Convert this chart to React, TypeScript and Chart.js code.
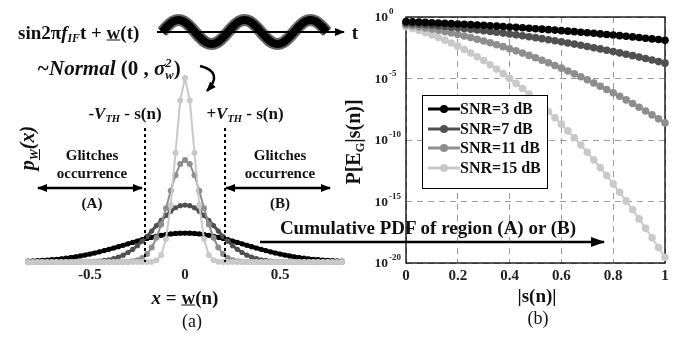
import React, { useEffect, useRef } from "react";
import { Chart, registerables } from "chart.js";
Chart.register(...registerables);

const FONT = '"Liberation Serif", "Times New Roman", serif';

// ---------- Panel (a): PDF of the noise w(n) ----------
const pdfX = [
  -0.825, -0.8, -0.775, -0.75, -0.725, -0.7, -0.675, -0.65, -0.625, -0.6, -0.575, -0.55, -0.525, -0.5,
  -0.475, -0.45, -0.425, -0.4, -0.375, -0.35, -0.325, -0.3, -0.275, -0.25, -0.225, -0.2, -0.175, -0.15,
  -0.125, -0.1, -0.075, -0.05, -0.025, 0, 0.025, 0.05, 0.075, 0.1, 0.125, 0.15, 0.175, 0.2, 0.225, 0.25,
  0.275, 0.3, 0.325, 0.35, 0.375, 0.4, 0.425, 0.45, 0.475, 0.5, 0.525, 0.55, 0.575, 0.6, 0.625, 0.65,
  0.675, 0.7, 0.725, 0.75, 0.775, 0.8, 0.825,
];
const pdfSnr3 = [
  0.038, 0.047, 0.058, 0.07, 0.085, 0.102, 0.122, 0.144, 0.17, 0.2, 0.232, 0.269, 0.308, 0.352,
  0.399, 0.45, 0.504, 0.56, 0.619, 0.68, 0.742, 0.804, 0.866, 0.927, 0.986, 1.041, 1.093, 1.14,
  1.181, 1.216, 1.243, 1.264, 1.276, 1.28, 1.276, 1.264, 1.243, 1.216, 1.181, 1.14, 1.093, 1.041, 0.986, 0.927,
  0.866, 0.804, 0.742, 0.68, 0.619, 0.56, 0.504, 0.45, 0.399, 0.352, 0.308, 0.269, 0.232, 0.2, 0.17, 0.144,
  0.122, 0.102, 0.085, 0.07, 0.058, 0.047, 0.038,
];
const pdfSnr7 = [
  0, 0, 0, 0, 0, 0, 0, 0, 0.001, 0.002, 0.003, 0.006, 0.01, 0.017,
  0.028, 0.044, 0.068, 0.1, 0.15, 0.22, 0.3, 0.42, 0.56, 0.72, 0.92, 1.13, 1.37, 1.61,
  1.84, 2.06, 2.25, 2.4, 2.49, 2.52, 2.49, 2.4, 2.25, 2.06, 1.84, 1.61, 1.37, 1.13, 0.92, 0.72,
  0.56, 0.42, 0.3, 0.22, 0.15, 0.1, 0.068, 0.044, 0.028, 0.017, 0.01, 0.006, 0.003, 0.002, 0.001, 0,
  0, 0, 0, 0, 0, 0, 0,
];
const pdfSnr11 = [
  0, 0, 0, 0, 0, 0, 0, 0, 0, 0, 0, 0, 0, 0,
  0, 0, 0, 0, 0, 0, 0.005, 0.014, 0.036, 0.08, 0.18, 0.35, 0.64, 1.07,
  1.66, 2.38, 3.15, 3.84, 4.33, 4.51, 4.33, 3.84, 3.15, 2.38, 1.66, 1.07, 0.64, 0.35, 0.18, 0.08,
  0.036, 0.014, 0.005, 0, 0, 0, 0, 0, 0, 0, 0, 0, 0, 0, 0, 0,
  0, 0, 0, 0, 0, 0, 0,
];
const pdfSnr15 = [
  0, 0, 0, 0, 0, 0, 0, 0, 0, 0, 0, 0, 0, 0,
  0, 0, 0, 0, 0, 0, 0, 0, 0, 0, 0, 0, 0.014, 0.075,
  0.31, 1.02, 2.52, 4.83, 7.15, 8.14, 7.15, 4.83, 2.52, 1.02, 0.31, 0.075, 0.014, 0, 0, 0,
  0, 0, 0, 0, 0, 0, 0, 0, 0, 0, 0, 0, 0, 0, 0, 0,
  0, 0, 0, 0, 0, 0, 0,
];
const pdfTicks = [-0.5, 0, 0.5];
const thresholdX = [-0.21, 0.21];

// ---------- Noisy sine sketch ----------
const waveIdx = [0, 1, 2, 3, 4, 5, 6, 7, 8, 9, 10, 11, 12, 13, 14, 15, 16, 17, 18, 19, 20, 21, 22, 23, 24, 25, 26, 27, 28, 29, 30];
const waveVal = [0, 0.5, 0.87, 1, 0.87, 0.5, 0, -0.5, -0.87, -1, -0.87, -0.5, 0, 0.5, 0.87, 1, 0.87, 0.5, 0, -0.5, -0.87, -1, -0.87, -0.5, 0, 0.5, 0.87, 1, 0.87, 0.5, 0];

// ---------- Panel (b): P[E_G | s(n)] (log10 of probability) ----------
const sAbs = [
  0, 0.025, 0.05, 0.075, 0.1, 0.125, 0.15, 0.175, 0.2, 0.225, 0.25, 0.275, 0.3, 0.325, 0.35, 0.375, 0.4, 0.425, 0.45, 0.475,
  0.5, 0.525, 0.55, 0.575, 0.6, 0.625, 0.65, 0.675, 0.7, 0.725, 0.75, 0.775, 0.8, 0.825, 0.85, 0.875, 0.9, 0.925, 0.95, 0.975, 1,
];
const log10PSnr3 = [
  -0.376, -0.397, -0.419, -0.441, -0.464, -0.489, -0.513, -0.539, -0.565, -0.593, -0.62, -0.65, -0.679, -0.711, -0.742, -0.774, -0.807, -0.842, -0.877, -0.913,
  -0.95, -0.989, -1.027, -1.067, -1.108, -1.15, -1.192, -1.235, -1.28, -1.326, -1.372, -1.42, -1.468, -1.518, -1.568, -1.619, -1.671, -1.725, -1.779, -1.834, -1.891,
];
const log10PSnr7 = [
  -0.511, -0.55, -0.591, -0.633, -0.678, -0.725, -0.774, -0.824, -0.877, -0.933, -0.99, -1.049, -1.11, -1.173, -1.239, -1.307, -1.377, -1.45, -1.524, -1.601,
  -1.68, -1.761, -1.844, -1.93, -2.019, -2.109, -2.202, -2.297, -2.395, -2.494, -2.595, -2.699, -2.808, -2.918, -3.03, -3.142, -3.26, -3.379, -3.499, -3.624, -3.75,
];
const log10PSnr11 = [
  -0.645, -0.721, -0.802, -0.89, -0.984, -1.083, -1.188, -1.299, -1.417, -1.54, -1.669, -1.805, -1.947, -2.095, -2.251, -2.412, -2.579, -2.753, -2.936, -3.123,
  -3.318, -3.517, -3.725, -3.94, -4.159, -4.387, -4.622, -4.862, -5.111, -5.364, -5.625, -5.894, -6.167, -6.449, -6.738, -7.032, -7.335, -7.644, -7.959, -8.282, -8.611,
];
const log10PSnr15 = [
  -0.799, -0.942, -1.099, -1.271, -1.46, -1.663, -1.882, -2.117, -2.37, -2.638, -2.925, -3.226, -3.546, -3.883, -4.235, -4.605, -4.993, -5.398, -5.819, -6.258,
  -6.715, -7.19, -7.681, -8.189, -8.716, -9.261, -9.822, -10.401, -10.999, -11.614, -12.246, -12.896, -13.565, -14.251, -14.953, -15.674, -16.413, -17.172, -17.946, -18.736, -19.542,
];
const snrLabels = ["SNR=3 dB", "SNR=7 dB", "SNR=11 dB", "SNR=15 dB"];
const bXTicks = [0, 0.2, 0.4, 0.6, 0.8, 1];
const bYTickExps = [0, -5, -10, -15, -20];

const COLORS = ["#000000", "#505050", "#8e8e8e", "#c9c9c9"];

const tickFont = { family: FONT, size: 15, weight: "bold" as const };

export default function App() {
  const aRef = useRef<HTMLCanvasElement>(null);
  const bRef = useRef<HTMLCanvasElement>(null);
  const wRef = useRef<HTMLCanvasElement>(null);

  useEffect(() => {
    const charts: Chart[] = [];

    const thresholdPlugin = {
      id: "thresholds",
      afterDatasetsDraw(chart: any) {
        const { ctx, scales, chartArea } = chart;
        ctx.save();
        ctx.setLineDash([3, 3]);
        ctx.lineWidth = 2;
        ctx.strokeStyle = "#000";
        thresholdX.forEach((v) => {
          const px = Math.round(scales.x.getPixelForValue(v));
          ctx.beginPath();
          ctx.moveTo(px, 128);
          ctx.lineTo(px, chartArea.bottom);
          ctx.stroke();
        });
        ctx.restore();
      },
    };

    const pdfSeries = [
      { d: pdfSnr15, c: COLORS[3], bw: 2, r: 3 },
      { d: pdfSnr11, c: COLORS[2], bw: 2, r: 3 },
      { d: pdfSnr7, c: COLORS[1], bw: 3, r: 2.6 },
      { d: pdfSnr3, c: COLORS[0], bw: 4, r: 2.6 },
    ];

    charts.push(
      new Chart(aRef.current!, {
        type: "line",
        data: {
          datasets: pdfSeries.map((s) => ({
            data: pdfX.map((x, i) => ({ x, y: s.d[i] })),
            borderColor: s.c,
            backgroundColor: s.c,
            borderWidth: s.bw,
            pointRadius: s.r,
            pointBorderWidth: 0,
            pointHoverRadius: 0,
            tension: 0,
            clip: false as any,
          })),
        },
        options: {
          animation: false,
          responsive: false,
          events: [],
          layout: { padding: { left: 28, right: 3, top: 78, bottom: 12 } },
          plugins: { legend: { display: false }, tooltip: { enabled: false } },
          scales: {
            x: {
              type: "linear",
              min: -0.825,
              max: 0.825,
              afterBuildTicks: (s: any) => {
                s.ticks = pdfTicks.map((v) => ({ value: v }));
              },
              grid: { display: false, drawTicks: false },
              border: { display: false },
              ticks: {
                font: tickFont,
                color: "#222",
                padding: 4,
                maxRotation: 0,
                autoSkip: false,
                callback: (v: any) => String(v),
              },
            },
            y: { display: false, min: 0, max: 8.14 },
          },
        },
        plugins: [thresholdPlugin],
      })
    );

    charts.push(
      new Chart(wRef.current!, {
        type: "line",
        data: {
          datasets: [
            {
              data: waveIdx.map((x, i) => ({ x, y: waveVal[i] })),
              borderColor: "#000",
              borderWidth: 8,
              pointRadius: 0,
              tension: 0.4,
              clip: false as any,
            },
            {
              data: waveIdx.map((x, i) => ({ x, y: waveVal[i] })),
              borderColor: "rgba(0,0,0,0.6)",
              borderWidth: 12,
              pointRadius: 0,
              tension: 0.4,
              clip: false as any,
            },
          ],
        },
        options: {
          animation: false,
          responsive: false,
          events: [],
          layout: { padding: { left: 12, right: 13, top: 12, bottom: 14 } },
          plugins: { legend: { display: false }, tooltip: { enabled: false } },
          scales: {
            x: { type: "linear", display: false, min: 0, max: 30 },
            y: { display: false, min: -1, max: 1 },
          },
        },
      })
    );

    const framePlugin = {
      id: "frame",
      beforeDatasetsDraw(chart: any) {
        const { ctx, chartArea } = chart;
        ctx.save();
        ctx.strokeStyle = "#000";
        ctx.lineWidth = 1.3;
        ctx.strokeRect(chartArea.left, chartArea.top, chartArea.right - chartArea.left, chartArea.bottom - chartArea.top);
        ctx.restore();
      },
      afterDraw(chart: any) {
        const { ctx, scales, chartArea } = chart;
        ctx.save();
        ctx.fillStyle = "#222";
        ctx.textBaseline = "middle";
        bYTickExps.forEach((e) => {
          const py = scales.y.getPixelForValue(Math.pow(10, e));
          ctx.font = `bold 13.5px ${FONT}`;
          ctx.textAlign = "right";
          ctx.fillText("10", chartArea.left - 18, py + 1);
          ctx.font = `bold 9px ${FONT}`;
          ctx.textAlign = "left";
          ctx.fillText(String(e), chartArea.left - 17, py - 5);
        });
        ctx.restore();
      },
    };

    const bSeries = [log10PSnr3, log10PSnr7, log10PSnr11, log10PSnr15];
    charts.push(
      new Chart(bRef.current!, {
        type: "line",
        data: {
          datasets: bSeries.map((arr, i) => ({
            label: snrLabels[i],
            data: sAbs.map((s, j) => ({ x: s, y: Math.pow(10, arr[j]) })),
            borderColor: COLORS[i],
            backgroundColor: COLORS[i],
            borderWidth: 2,
            pointRadius: 3.8,
            pointBorderWidth: 0,
            pointHoverRadius: 0,
            tension: 0,
            clip: false as any,
          })),
        },
        options: {
          animation: false,
          responsive: false,
          events: [],
          layout: { padding: { left: 61, right: 17, top: 17, bottom: 11 } },
          plugins: { legend: { display: false }, tooltip: { enabled: false } },
          scales: {
            x: {
              type: "linear",
              min: 0,
              max: 1,
              afterBuildTicks: (s: any) => {
                s.ticks = bXTicks.map((v) => ({ value: v }));
              },
              grid: { color: "#9a9a9a", lineWidth: 1, drawTicks: false },
              border: { display: false, dash: [6, 5] },
              ticks: {
                font: tickFont,
                color: "#222",
                padding: 4,
                maxRotation: 0,
                autoSkip: false,
                callback: (v: any) => String(v),
              },
            },
            y: {
              type: "logarithmic",
              min: 1e-20,
              max: 1,
              afterBuildTicks: (s: any) => {
                s.ticks = bYTickExps.map((e) => ({ value: Math.pow(10, e) }));
              },
              grid: { color: "#9a9a9a", lineWidth: 1, drawTicks: false },
              border: { display: false, dash: [6, 5] },
              ticks: { display: false },
            },
          },
        },
        plugins: [framePlugin],
      })
    );

    return () => charts.forEach((c) => c.destroy());
  }, []);

  const abs = (x: number, y: number, extra: any = {}): React.CSSProperties => ({
    position: "absolute",
    left: x,
    top: y,
    transform: "translate(-50%,-50%)",
    whiteSpace: "nowrap",
    lineHeight: 1,
    fontWeight: 700,
    ...extra,
  });
  const sub: React.CSSProperties = { fontSize: "0.62em", verticalAlign: "-0.3em", lineHeight: 0 };

  return (
    <div
      style={{
        position: "fixed",
        left: 0,
        top: 0,
        width: 682,
        height: 340,
        background: "#fff",
        overflow: "hidden",
        fontFamily: FONT,
        color: "#111",
      }}
    >
      <canvas ref={aRef} width={345} height={300} style={{ position: "absolute", left: 0, top: 0 }} />
      <canvas ref={bRef} width={337} height={300} style={{ position: "absolute", left: 345, top: 0 }} />
      <canvas ref={wRef} width={190} height={50} style={{ position: "absolute", left: 150, top: 8 }} />

      <svg width={682} height={340} style={{ position: "absolute", left: 0, top: 0, pointerEvents: "none" }}>
        <defs>
          <marker id="ah" markerWidth="10" markerHeight="10" refX="9" refY="5" orient="auto-start-reverse" markerUnits="userSpaceOnUse">
            <path d="M0,1 L10,5 L0,9 Z" fill="#000" />
          </marker>
          <marker id="ahBig" markerWidth="14" markerHeight="12" refX="13" refY="6" orient="auto-start-reverse" markerUnits="userSpaceOnUse">
            <path d="M0,1 L14,6 L0,11 Z" fill="#000" />
          </marker>
        </defs>
        <line x1={157} y1={32} x2={344} y2={32} stroke="#000" strokeWidth={2} markerEnd="url(#ah)" />
        <path d="M200,66 Q224,72 207,91" fill="none" stroke="#000" strokeWidth={2.5} markerEnd="url(#ah)" />
        <line x1={38} y1={188} x2={142} y2={188} stroke="#000" strokeWidth={2.5} markerStart="url(#ah)" markerEnd="url(#ah)" />
        <line x1={226} y1={188} x2={330} y2={188} stroke="#000" strokeWidth={2.5} markerStart="url(#ah)" markerEnd="url(#ah)" />
        <line x1={260} y1={242} x2={604} y2={242} stroke="#000" strokeWidth={2.5} markerEnd="url(#ahBig)" />
      </svg>

      {/* panel (a) texts */}
      <div style={abs(18, 32, { transform: "translate(0,-50%)", fontSize: 19 })}>
        sin2π<i>f</i>
        <i style={sub}>IF</i>t + <u>w</u>(t)
      </div>
      <div style={abs(355, 32, { fontSize: 19 })}>t</div>
      <div style={abs(37, 70, { transform: "translate(0,-50%)", fontSize: 21 })}>
        <i>~Normal</i> (0 , <i>σ</i>
        <span
          style={{
            display: "inline-flex",
            flexDirection: "column",
            fontSize: "0.6em",
            lineHeight: 0.95,
            verticalAlign: "middle",
            fontStyle: "italic",
          }}
        >
          <span>2</span>
          <span>w</span>
        </span>
        )
      </div>
      <div style={abs(125, 113, { fontSize: 17 })}>
        -<i>V</i>
        <i style={sub}>TH</i> - s(n)
      </div>
      <div style={abs(245, 113, { fontSize: 17 })}>
        +<i>V</i>
        <i style={sub}>TH</i> - s(n)
      </div>
      <div style={abs(27, 148, { transform: "translate(-50%,-50%) rotate(-90deg)", fontSize: 20 })}>
        <i>p</i>
        <i style={{ ...sub, textDecoration: "underline" }}>W</i>
        <i>(x)</i>
      </div>
      <div style={abs(92, 155, { fontSize: 15 })}>Glitches</div>
      <div style={abs(92, 173, { fontSize: 15 })}>occurrence</div>
      <div style={abs(92, 203, { fontSize: 15 })}>(A)</div>
      <div style={abs(280, 155, { fontSize: 15 })}>Glitches</div>
      <div style={abs(280, 173, { fontSize: 15 })}>occurrence</div>
      <div style={abs(280, 203, { fontSize: 15 })}>(B)</div>
      <div style={abs(428, 227, { fontSize: 19 })}>Cumulative PDF of region (A) or (B)</div>
      <div style={abs(185, 297, { fontSize: 19 })}>
        <i>x</i> = <u>w</u>(n)
      </div>
      <div style={abs(192, 321, { fontSize: 18, fontWeight: 400 })}>(a)</div>

      {/* panel (b) texts */}
      <div style={abs(353, 142, { transform: "translate(-50%,-50%) rotate(-90deg)", fontSize: 20 })}>
        P[E<span style={sub}>G</span>|s(n)]
      </div>
      <div style={abs(537, 295, { fontSize: 19 })}>|s(n)|</div>
      <div style={abs(538, 318, { fontSize: 18, fontWeight: 400 })}>(b)</div>

      {/* legend */}
      <div
        style={{
          position: "absolute",
          left: 422,
          top: 95,
          width: 124,
          height: 92,
          border: "1.3px solid #000",
          background: "#fff",
        }}
      >
        {snrLabels.map((lab, i) => (
          <div key={lab} style={{ position: "absolute", left: 0, top: 13 + i * 19.5, height: 0 }}>
            <svg width={36} height={12} style={{ position: "absolute", left: 4, top: -6 }}>
              <line x1={1} y1={6} x2={33} y2={6} stroke={COLORS[i]} strokeWidth={3} />
              <circle cx={17} cy={6} r={4} fill={COLORS[i]} />
            </svg>
            <div
              style={{
                position: "absolute",
                left: 37,
                top: 0,
                transform: "translate(0,-50%)",
                fontSize: 16,
                fontWeight: 700,
                whiteSpace: "nowrap",
                lineHeight: 1,
              }}
            >
              {lab}
            </div>
          </div>
        ))}
      </div>
    </div>
  );
}
